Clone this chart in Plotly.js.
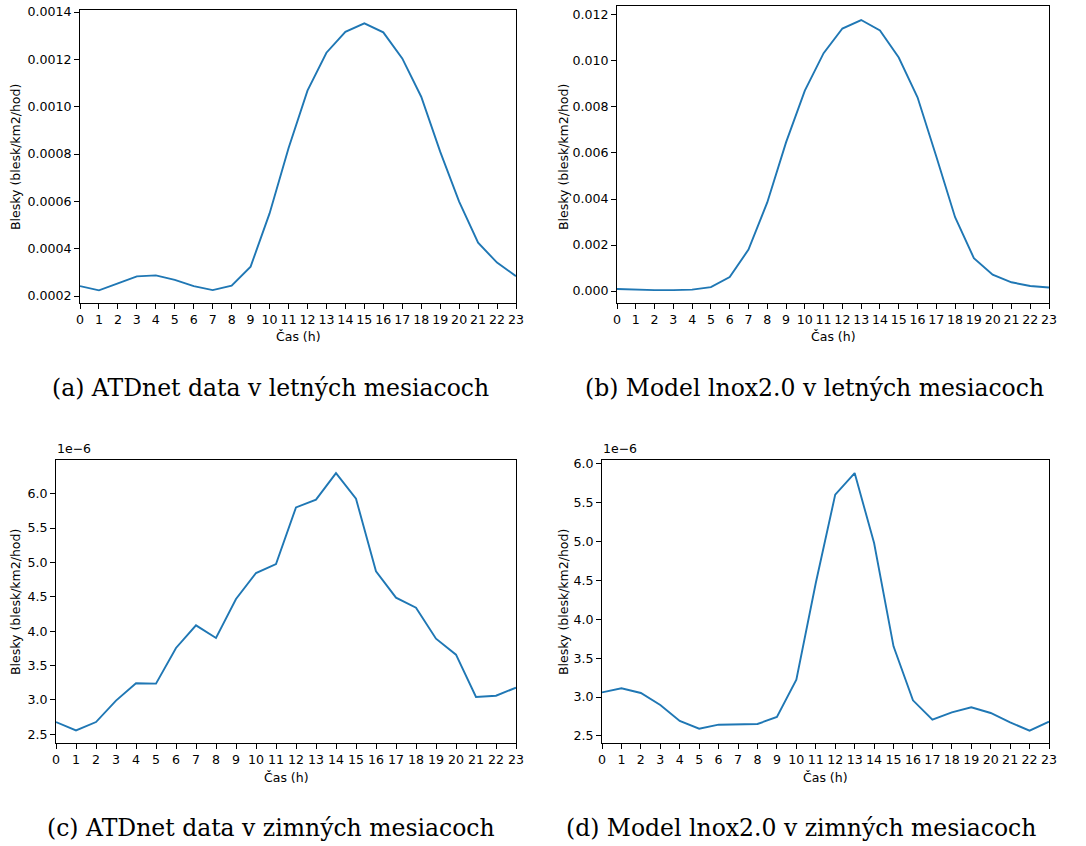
<!DOCTYPE html>
<html>
<head>
<meta charset="utf-8">
<script src="https://cdn.plot.ly/plotly-3.0.1.min.js"></script>
<style>html,body{margin:0;padding:0;background:#fff}#chart{width:1086px;height:846px}</style>
</head>
<body>
<div id="chart"></div>
<script>
// Hours of day
const hours = [0,1,2,3,4,5,6,7,8,9,10,11,12,13,14,15,16,17,18,19,20,21,22,23];
const hourTicks = hours.map(String);

// (a) ATDnet data, summer months (blesk/km2/hod)
const summerATD = [0.000242,0.000224,0.000253,0.000283,0.000287,0.000268,0.000242,0.000225,0.000244,0.000324,0.000549,0.000824,0.001068,0.001228,0.001316,0.001352,0.001314,0.001204,0.001042,0.000810,0.000599,0.000425,0.000341,0.000284];

// (b) Model lnox2.0, summer months
const summerModel = [0.00009,0.00006,0.00004,0.00004,0.00006,0.00017,0.00061,0.00180,0.00385,0.00646,0.00871,0.01034,0.01141,0.01178,0.01133,0.01015,0.00842,0.00585,0.00321,0.00143,0.00071,0.00038,0.00022,0.00015];

// (c) ATDnet data, winter months (units of 1e-6)
const winterATD = [2.679,2.558,2.679,2.990,3.242,3.237,3.756,4.085,3.901,4.468,4.846,4.977,5.801,5.913,6.300,5.927,4.871,4.488,4.342,3.891,3.659,3.043,3.062,3.179];

// (d) Model lnox2.0, winter months (units of 1e-6)
const winterModel = [3.060,3.112,3.052,2.898,2.693,2.594,2.645,2.654,2.654,2.744,3.223,4.464,5.598,5.876,4.977,3.651,2.958,2.710,2.804,2.868,2.795,2.675,2.568,2.684];

const captions = [
  "(a) ATDnet data v letných mesiacoch",
  "(b) Model lnox2.0 v letných mesiacoch",
  "(c) ATDnet data v zimných mesiacoch",
  "(d) Model lnox2.0 v zimných mesiacoch"
];
const xTitle = "Čas (h)";
const yTitle = "Blesky (blesk/km2/hod)";

const W = 1086, H = 846;
const px = v => v / W;
const py = v => 1 - v / H;

const lineStyle = {color: '#1f77b4', width: 1.9};
const tickFont = {family: 'DejaVu Sans', size: 12.6, color: '#000'};

function trace(y, xa, ya) {
  return {x: hours, y: y, xaxis: xa, yaxis: ya, type: 'scatter', mode: 'lines',
          line: lineStyle, hoverinfo: 'x+y', showlegend: false};
}

function xaxis(l, r, anchor) {
  return {domain: [px(l), px(r)], anchor: anchor, range: [0, 23],
          tickmode: 'array', tickvals: hours, ticktext: hourTicks,
          showline: true, mirror: true, linecolor: '#000', linewidth: 1,
          ticks: 'outside', ticklen: 5, tickwidth: 1, tickcolor: '#000',
          showgrid: false, zeroline: false, tickfont: tickFont, fixedrange: true};
}
function yaxis(t, b, anchor, range, dtick, tick0, fmt) {
  return {domain: [py(b), py(t)], anchor: anchor, range: range,
          tickmode: 'linear', dtick: dtick, tick0: tick0, tickformat: fmt,
          showline: true, mirror: true, linecolor: '#000', linewidth: 1,
          ticks: 'outside', ticklen: 5, tickwidth: 1, tickcolor: '#000',
          showgrid: false, zeroline: false, tickfont: tickFont, fixedrange: true};
}

const data = [
  trace(summerATD, 'x', 'y'),
  trace(summerModel, 'x2', 'y2'),
  trace(winterATD, 'x3', 'y3'),
  trace(winterModel, 'x4', 'y4')
];

const titleFont = {family: 'DejaVu Sans', size: 12.5, color: '#000'};
const capFont = {family: 'DejaVu Serif', size: 23.5, color: '#000'};

function ann(x, y, text, font, opts) {
  return Object.assign({x: px(x), y: py(y), xref: 'paper', yref: 'paper', text: text,
    showarrow: false, font: font, xanchor: 'center', yanchor: 'middle'}, opts || {});
}

const annotations = [
  ann(15, 157, yTitle, titleFont, {textangle: -90}),
  ann(563, 157, yTitle, titleFont, {textangle: -90}),
  ann(15, 602, yTitle, titleFont, {textangle: -90}),
  ann(563, 602, yTitle, titleFont, {textangle: -90}),
  ann(298, 337, xTitle, titleFont),
  ann(833, 337, xTitle, titleFont),
  ann(286, 777, xTitle, titleFont),
  ann(825, 777, xTitle, titleFont),
  ann(55, 458, '1e\u22126', titleFont, {xanchor: 'left', yanchor: 'bottom'}),
  ann(601, 458, '1e\u22126', titleFont, {xanchor: 'left', yanchor: 'bottom'}),
  ann(270, 388, captions[0], capFont),
  ann(814, 388, captions[1], capFont),
  ann(271, 828, captions[2], capFont),
  ann(801, 828, captions[3], capFont)
];

const layout = {
  width: W, height: H,
  margin: {l: 0, r: 0, t: 0, b: 0},
  paper_bgcolor: '#fff', plot_bgcolor: '#fff',
  showlegend: false,
  xaxis: xaxis(80, 516, 'y'),
  yaxis: yaxis(10, 303, 'x', [0.0001704, 0.0014085], 0.0002, 0.0002, '.4f'),
  xaxis2: xaxis(617, 1049, 'y2'),
  yaxis2: yaxis(6, 303, 'x2', [-0.000521, 0.01239], 0.002, 0, '.3f'),
  xaxis3: xaxis(56, 516, 'y3'),
  yaxis3: yaxis(460, 743, 'x3', [2.374, 6.49], 0.5, 2.5, '.1f'),
  xaxis4: xaxis(602, 1049, 'y4'),
  yaxis4: yaxis(460, 743, 'x4', [2.41, 6.043], 0.5, 2.5, '.1f'),
  annotations: annotations
};

Plotly.newPlot('chart', data, layout, {displayModeBar: false, staticPlot: true});
</script>
</body>
</html>
